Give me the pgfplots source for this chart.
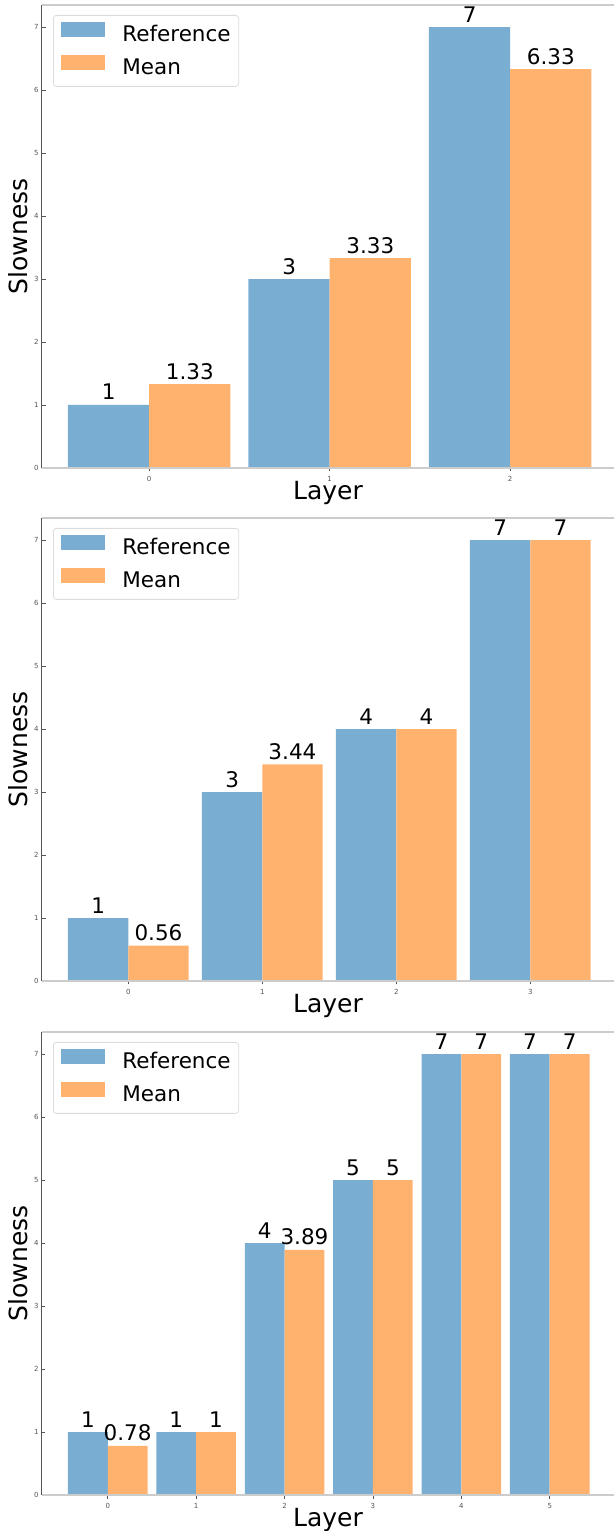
\documentclass[border=0pt]{standalone}
\usepackage{fontspec}
\setmainfont{DejaVu Sans}
\usepackage{pgfplots}
\pgfplotsset{compat=1.18}
\definecolor{refblue}{RGB}{121,173,210}
\definecolor{meanorange}{RGB}{255,178,110}
\definecolor{spinelight}{RGB}{204,204,204}
\definecolor{spinedark}{RGB}{85,85,85}
\definecolor{legendgray}{RGB}{220,220,220}
\pgfplotsset{
  myaxis/.style={
    scale only axis, width=572pt, height=463pt,
    ybar, bar width=0.45,
    ymin=0, ymax=7.35,
    ytick={0,1,2,3,4,5,6,7},
    xtick=data,
    axis line style={draw=none},
    tick pos=left,
    major tick length=3.5pt,
    tick style={color=spinedark, line width=0.8pt},
    /pgf/number format/assume math mode=true,
    tick label style={font=\fontsize{7}{8}\selectfont, text=spinedark},
    xticklabel style={yshift=-1pt},
    xlabel={Layer}, ylabel={Slowness},
    every axis x label/.style={at={(axis description cs:0.5,-0.054)}, anchor=center, font=\fontsize{25}{28}\selectfont},
    every axis y label/.style={at={(axis description cs:-0.042,0.5)}, anchor=center, rotate=90, font=\fontsize{25}{28}\selectfont},
    clip=false,
    nodes near coords,
    point meta=explicit symbolic,
    every node near coord/.append style={font=\fontsize{21.5}{25}\selectfont, text=black, anchor=base, yshift=5pt, inner sep=0pt},
    legend style={at={(axis description cs:0,1)}, anchor=north west, xshift=11pt, yshift=-10pt,
      draw=legendgray, rounded corners=3pt, fill=white, line width=0.8pt,
      font=\fontsize{21.5}{25}\selectfont,
      inner xsep=8pt, inner ysep=7pt, row sep=9pt,
      nodes={inner sep=0pt, text height=16pt, text depth=5pt},
      /tikz/every odd column/.append style={column sep=17pt},
    },
    legend cell align=left,
    legend image code/.code={\path[#1,draw=none,sharp corners] (0pt,-1.5pt) rectangle (44pt,13.5pt);},
  },
  refbar/.style={fill=refblue, draw=none, bar shift=-0.225},
  meanbar/.style={fill=meanorange, draw=none, bar shift=0.225},
}
\newcommand{\spines}{%
  \draw[spinelight, line width=2pt] (rel axis cs:0,1) -- (rel axis cs:1,1);
  \draw[spinelight, line width=2pt] (rel axis cs:0,0) -- (rel axis cs:1,0);
  \draw[spinedark, line width=1pt] (rel axis cs:0,0) -- (rel axis cs:0,1);
}
\begin{document}
\begin{tikzpicture}
\path[use as bounding box] (0,0) rectangle (614pt,1531pt);
% Plot 1
\begin{axis}[myaxis, at={(42pt,1063pt)}, anchor=south west, xmin=-0.594, xmax=2.575]
\addplot[refbar] coordinates {(0,1) [1] (1,3) [3] (2,7) [7]};
\addplot[meanbar] coordinates {(0,1.33) [1.33] (1,3.33) [3.33] (2,6.33) [6.33]};
\legend{Reference, Mean}
\spines
\end{axis}
% Plot 2
\begin{axis}[myaxis, at={(42pt,550pt)}, anchor=south west, xmin=-0.644, xmax=3.625]
\addplot[refbar] coordinates {(0,1) [1] (1,3) [3] (2,4) [4] (3,7) [7]};
\addplot[meanbar] coordinates {(0,0.56) [0.56] (1,3.44) [3.44] (2,4) [4] (3,7) [7]};
\legend{Reference, Mean}
\spines
\end{axis}
% Plot 3
\begin{axis}[myaxis, at={(42pt,36pt)}, anchor=south west, xmin=-0.744, xmax=5.727]
\addplot[refbar] coordinates {(0,1) [1] (1,1) [1] (2,4) [4] (3,5) [5] (4,7) [7] (5,7) [7]};
\addplot[meanbar] coordinates {(0,0.78) [0.78] (1,1) [1] (2,3.89) [3.89] (3,5) [5] (4,7) [7] (5,7) [7]};
\legend{Reference, Mean}
\spines
\end{axis}
\end{tikzpicture}
\end{document}
